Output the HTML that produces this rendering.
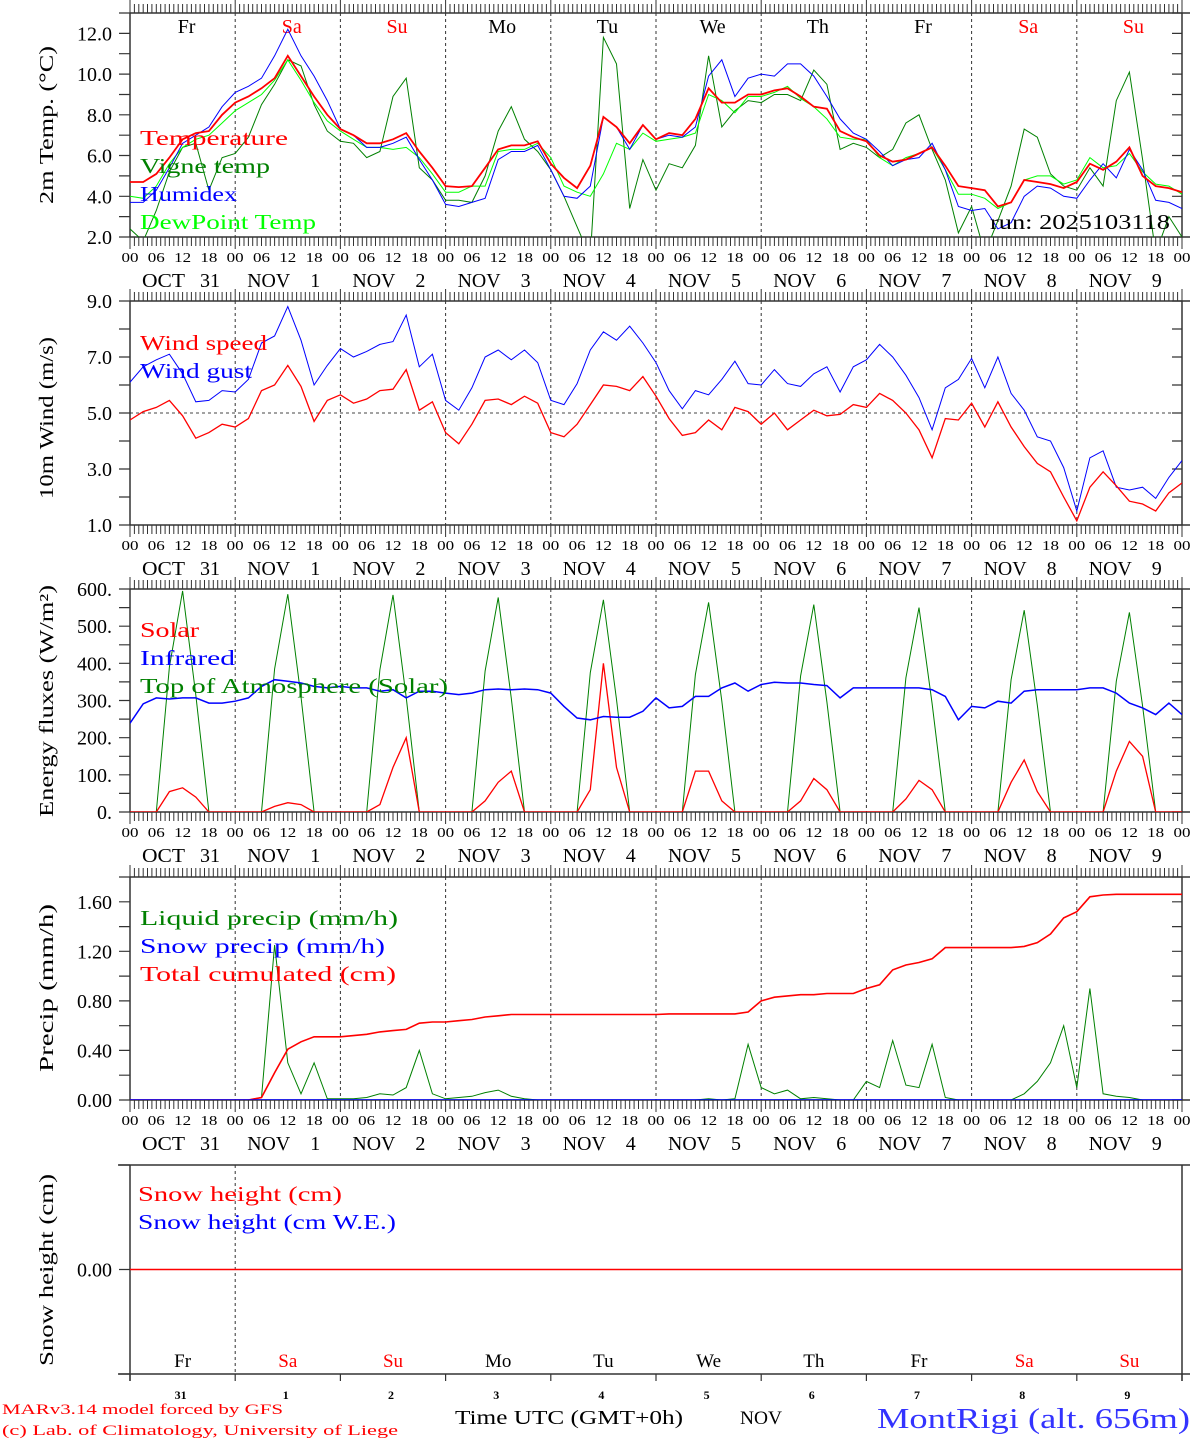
<!DOCTYPE html>
<html><head><meta charset="utf-8"><style>
html,body{margin:0;padding:0;background:#fff;}
svg{display:block;font-family:"Liberation Serif",serif;}
</style></head><body>
<svg id="chart" width="1194" height="1440" viewBox="0 0 1194 1440" xmlns="http://www.w3.org/2000/svg"></svg>
<script>
// ---------- DATA (3-hourly, t = 0..240 h) ----------
const dayNames = ["Fr","Sa","Su","Mo","Tu","We","Th","Fr","Sa","Su"];
const weekendDays = [false,true,true,false,false,false,false,false,true,true];
const dateLabels = ["OCT","NOV","NOV","NOV","NOV","NOV","NOV","NOV","NOV","NOV"];
const dateNums = ["31","1","2","3","4","5","6","7","8","9"];
const hourLabels = ["00","06","12","18"];

const tempVals = [4.7,4.7,5.1,5.9,6.8,7.1,7.2,8.0,8.6,8.9,9.3,9.8,10.9,9.9,8.9,8.0,7.3,7.0,6.6,6.6,6.8,7.1,6.2,5.4,4.5,
4.45,4.5,5.4,6.3,6.5,6.5,6.7,5.6,4.9,4.4,5.5,7.9,7.4,6.6,7.5,6.8,7.1,7.0,7.8,9.3,8.6,8.6,9.0,9.0,9.2,9.3,8.9,8.4,8.3,7.2,6.9,6.7,6.0,5.7,5.8,6.1,6.4,5.5,4.5,4.4,4.3,3.5,3.7,4.8,4.7,4.6,4.4,4.7,5.6,5.3,5.7,6.4,5.0,4.5,4.4,4.2];
const vigneVals = [2.4,1.8,3.3,5.2,6.4,6.6,4.3,5.9,6.1,6.9,8.5,9.5,10.7,10.4,8.5,7.2,6.7,6.6,5.9,6.2,8.9,9.8,5.4,4.8,3.8,
3.8,3.7,5.0,7.2,8.4,6.8,6.2,5.3,4.0,2.5,1.0,11.8,10.5,3.4,5.8,4.3,5.6,5.4,6.5,10.9,7.4,8.2,8.7,8.6,9.0,9.0,8.7,10.2,9.5,6.3,6.6,6.4,5.9,6.3,7.6,8.0,6.3,4.8,2.2,3.5,1.2,2.8,4.5,7.3,6.9,5.1,4.5,4.3,5.4,4.5,8.7,10.1,5.8,1.2,3.0,2.0];
const humidexVals = [3.7,3.7,4.3,5.4,6.6,7.0,7.4,8.4,9.1,9.4,9.8,10.9,12.2,10.9,9.9,8.7,7.3,7.0,6.4,6.4,6.6,6.9,5.8,4.8,3.6,
3.5,3.7,3.9,5.8,6.2,6.2,6.5,5.3,4.0,3.9,4.5,7.9,7.4,6.3,7.5,6.8,7.0,6.9,7.4,9.9,10.7,8.9,9.8,10.0,9.9,10.5,10.5,9.9,8.9,7.8,7.1,6.8,6.2,5.5,5.8,5.9,6.6,5.3,3.5,3.3,3.4,2.4,2.7,4.0,4.5,4.4,4.0,3.9,4.8,5.6,4.9,6.3,5.3,3.8,3.7,3.4];
const dewVals = [4.0,3.9,4.5,5.6,6.4,6.8,7.0,7.6,8.2,8.6,9.0,9.7,10.7,9.7,8.6,7.7,7.2,6.8,6.4,6.4,6.3,6.4,5.9,5.1,4.2,
4.2,4.5,4.5,6.2,6.3,6.3,6.6,5.9,4.5,4.2,4.0,5.1,6.6,6.3,7.1,6.7,6.8,6.9,7.1,9.0,8.7,8.1,8.9,8.9,9.1,9.4,8.8,8.4,7.8,6.9,6.8,6.8,5.9,5.5,5.9,6.1,6.4,5.3,4.1,4.1,3.9,3.4,3.7,4.8,5.0,5.0,4.6,4.8,5.9,5.4,5.5,6.1,5.2,4.6,4.5,4.1];

const windVals = [4.75,5.05,5.2,5.45,4.9,4.1,4.3,4.6,4.5,4.8,5.8,6.0,6.7,5.95,4.7,5.45,5.65,5.35,5.5,5.8,5.85,6.55,5.1,5.4,4.3,3.9,4.6,5.45,5.5,5.3,5.6,5.35,4.3,4.15,4.6,5.3,6.0,5.95,5.8,6.3,5.6,4.8,4.2,4.3,4.75,4.4,5.2,5.05,4.6,5.0,4.4,4.75,5.1,4.9,4.95,5.3,5.2,5.7,5.45,5.0,4.4,3.4,4.8,4.75,5.35,4.5,5.4,4.5,3.8,3.2,2.9,2.0,1.15,2.35,2.9,2.4,1.85,1.75,1.5,2.15,2.5];
const gustVals = [6.1,6.65,6.9,7.1,6.4,5.4,5.45,5.8,5.75,6.2,7.5,7.75,8.8,7.6,6.0,6.7,7.3,7.0,7.2,7.45,7.55,8.5,6.65,7.1,5.45,5.1,5.9,7.0,7.25,6.9,7.25,6.8,5.45,5.3,6.05,7.25,7.9,7.6,8.1,7.5,6.8,5.8,5.15,5.8,5.65,6.2,6.85,6.05,6.0,6.55,6.05,5.95,6.4,6.65,5.75,6.65,6.9,7.45,7.0,6.35,5.55,4.4,5.9,6.2,6.95,5.9,7.0,5.7,5.1,4.15,4.0,3.05,1.5,3.4,3.65,2.35,2.25,2.35,1.95,2.7,3.3];

const solarVals = [0,0,0,55,65,40,0,0, 0,0,0,15,25,20,0,0, 0,0,0,20,120,200,0,0, 0,0,0,30,80,110,0,0, 0,0,0,60,400,120,0,0,
0,0,0,110,110,30,0,0, 0,0,0,30,90,60,0,0, 0,0,0,35,85,60,0,0, 0,0,0,80,140,55,0,0, 0,0,0,110,190,150,0,0, 0];
const infraredVals = [239,291,307,304,307,307,293,293,298,307,338,356,352,347,338,334,338,334,334,325,329,307,325,325,320,316,320,329,331,329,331,329,320,284,253,248,257,255,255,271,307,280,284,311,311,334,347,325,343,349,347,347,343,340,307,334,334,334,334,334,334,329,311,248,284,280,298,293,325,329,329,329,329,334,334,320,293,280,262,293,262];
const toaVals = [0,0,0,390,595,315,0,0, 0,0,0,385,586,310,0,0, 0,0,0,383,584,309,0,0, 0,0,0,379,577,306,0,0, 0,0,0,375,571,303,0,0,
0,0,0,370,564,299,0,0, 0,0,0,366,558,296,0,0, 0,0,0,361,550,292,0,0, 0,0,0,356,543,288,0,0, 0,0,0,352,537,285,0,0, 0];

const liquidVals = [0,0,0,0,0,0,0,0,0,0,0.02,1.25,0.3,0.05,0.3,0.01,0.01,0.01,0.02,0.05,0.04,0.1,0.4,0.05,0.01,0.02,0.03,0.06,0.08,0.03,0.01,0,0,0,0,0,0,0,0,0,0,0,0,0,0.01,0,0.01,0.45,0.1,0.05,0.08,0.01,0.02,0.01,0,0,0.15,0.1,0.48,0.12,0.1,0.45,0.02,0,0,0,0,0,0.05,0.15,0.3,0.6,0.1,0.9,0.05,0.03,0.02,0,0,0,0];
const snowPrecipVals = new Array(81).fill(0);
const cumulVals = [0,0,0,0,0,0,0,0,0,0,0.02,0.22,0.41,0.47,0.51,0.51,0.51,0.52,0.53,0.55,0.56,0.57,0.62,0.63,0.63,0.64,0.65,0.67,0.68,0.69,0.69,0.69,0.69,0.69,0.69,0.69,0.69,0.69,0.69,0.69,0.69,0.695,0.695,0.695,0.695,0.695,0.695,0.71,0.8,0.83,0.84,0.85,0.85,0.86,0.86,0.86,0.9,0.93,1.05,1.09,1.11,1.14,1.23,1.23,1.23,1.23,1.23,1.23,1.24,1.27,1.34,1.47,1.52,1.64,1.655,1.66,1.66,1.66,1.66,1.66,1.66];
const snowHeightVals = new Array(81).fill(0);
const snowWEVals = new Array(81).fill(0);

// ---------- RENDER ----------
const NS = "http://www.w3.org/2000/svg";
const svg = document.getElementById('chart');
const X0 = 130, X1 = 1182, TMAX = 240;
function xs(t){ return X0 + t / TMAX * (X1 - X0); }
function el(tag, attrs, parent){ const e = document.createElementNS(NS, tag); for (const k in attrs) e.setAttribute(k, attrs[k]); (parent||svg).appendChild(e); return e; }
function txt(s, attrs, parent){ const e = el('text', attrs, parent); e.textContent = s; return e; }

function panel(p){
  const g = el('g', {});
  
  
  const ys = v => p.bot - (v - p.min) / (p.max - p.min) * (p.bot - p.top);
  const cid = 'clip-' + p.name;
  const cp = el('clipPath', {id: cid}, g);
  el('rect', {x: X0, y: p.top, width: X1 - X0, height: p.bot - p.top}, cp);
  const nDiv = p.simple ? 2 : 10;
  for (let d = 1; d < nDiv; d++) {
    const l = el('line', {x1: xs(d*24), x2: xs(d*24), y1: p.top, y2: p.bot, stroke: '#333', 'stroke-width': 1, 'stroke-dasharray': '3,3'}, g);
    
    
  }
  if (p.hline !== undefined) {
    const l = el('line', {x1: X0, x2: X1, y1: ys(p.hline), y2: ys(p.hline), stroke: '#444', 'stroke-dasharray': '3,3'}, g);
    
    
  }
  const ext = p.simple ? 118 : X0;
  el('line', {x1: ext, x2: X1 + 8, y1: p.top, y2: p.top, stroke: '#333', 'stroke-width': 1.5}, g);
  el('line', {x1: ext, x2: X1 + 8, y1: p.bot, y2: p.bot, stroke: '#333', 'stroke-width': 1.5}, g);
  el('line', {x1: X0, x2: X0, y1: p.top, y2: p.bot + (p.simple ? 7 : 0), stroke: '#333', 'stroke-width': 1.5}, g);
  el('line', {x1: X1, x2: X1, y1: p.top, y2: p.bot + (p.simple ? 7 : 0), stroke: '#333', 'stroke-width': 1.5}, g);
  if (!p.simple) {
    let dpath = '';
    for (let h = 0; h <= 240; h++) {
      const x = xs(h).toFixed(1);
      const big = h % 24 === 0;
      dpath += `M${x},${p.bot}v${big ? 12 : 9}M${x},${p.top}v${big ? -(p.topExt||12) : -9}`;
    }
    el('path', {d: dpath, stroke: '#333', 'stroke-width': 1, fill: 'none'}, g);
    for (let k = 0; k <= 40; k++) {
      const t = txt(hourLabels[k % 4], {x: xs(k*6) - 8.5, y: p.bot + 25, 'font-size': 14, fill: '#000', textLength: 17, lengthAdjust: 'spacingAndGlyphs'}, g);
      
      
    }
    for (let d = 0; d < 10; d++) {
      const a = txt(dateLabels[d], {x: xs(d*24) + 12, y: p.bot + 50, 'font-size': 20, fill: '#000', textLength: 43, lengthAdjust: 'spacingAndGlyphs'}, g);
      
      
      const b = txt(dateNums[d], {x: xs(d*24) + 80, y: p.bot + 50, 'font-size': 20, 'text-anchor': 'middle', fill: '#000'}, g);
      
      
    }
  }
  let tp = '';
  for (let v = p.min; v <= p.max + 1e-9; v += p.minor) {
    const y = ys(v).toFixed(1);
    tp += `M${X0 - 11},${y}h11M${X1},${y}h${p.simple ? 0 : -10}`;
  }
  el('path', {d: tp, stroke: '#333', 'stroke-width': 1.2, fill: 'none'}, g);
  p.labels.forEach((lab, i) => {
    const t = txt(lab, {x: 112, y: ys(p.labelVals[i]) + 7, 'font-size': 20, 'text-anchor': 'end', fill: '#000'}, g);
    
    
  });
  const yt = txt(p.title, {x: -p.titleLen/2, y: 0, 'font-size': 20, fill: '#000', textLength: p.titleLen, lengthAdjust: 'spacingAndGlyphs', transform: `translate(53,${p.titleY}) rotate(-90)`}, g);
  
  
  const sg = el('g', {'clip-path': `url(#${cid})`}, g);
  p.series.forEach(s => {
    let d = '';
    s.vals.forEach((v, i) => { d += (i ? 'L' : 'M') + xs(i*3).toFixed(1) + ',' + ys(v).toFixed(1); });
    const path = el('path', {d: d, stroke: s.color, 'stroke-width': s.w || 1, fill: 'none'}, sg);
    
    
  });
  p.legend.forEach((L, i) => {
    const t = txt(L.t, {x: L.x || 140, y: p.legY + i*28, 'font-size': 21, fill: L.c, textLength: L.w, lengthAdjust: 'spacingAndGlyphs'}, g);
    
    
  });
  return g;
}

for (let d = 0; d < 10; d++) {
  const t = txt(dayNames[d], {x: xs(d*24 + 12) + 4, y: 33, 'font-size': 20, 'text-anchor': 'middle', fill: weekendDays[d] ? '#ff0000' : '#000'});
  
  
}

panel({name: 'temperature-panel', top: 13, bot: 237, min: 2, max: 13, minor: 1, topExt: 13,
  labels: ['2.0','4.0','6.0','8.0','10.0','12.0'], labelVals: [2,4,6,8,10,12], title: '2m Temp. (°C)', titleY: 125, titleLen: 158,
  series: [
    {name: 'vigne-temp-line', vals: vigneVals, color: '#008000'},
    {name: 'dewpoint-line', vals: dewVals, color: '#00ff00'},
    {name: 'humidex-line', vals: humidexVals, color: '#0000ff'},
    {name: 'temperature-line', vals: tempVals, color: '#ff0000', w: 1.8}],
  legY: 145, legend: [{t:'Temperature',c:'#ff0000',w:148},{t:'Vigne temp',c:'#008000',w:130},{t:'Humidex',c:'#0000ff',w:97},{t:'DewPoint Temp',c:'#00ff00',w:176}]});
const run = txt('run: 2025103118', {x: 990, y: 229, 'font-size': 21, fill: '#000', textLength: 180, lengthAdjust: 'spacingAndGlyphs'});



panel({name: 'wind-panel', top: 301, bot: 525, min: 1, max: 9, minor: 1, hline: 5,
  labels: ['1.0','3.0','5.0','7.0','9.0'], labelVals: [1,3,5,7,9], title: '10m Wind (m/s)', titleY: 418, titleLen: 162,
  series: [{name: 'wind-gust-line', vals: gustVals, color: '#0000ff'}, {name: 'wind-speed-line', vals: windVals, color: '#ff0000', w: 1.3}],
  legY: 350, legend: [{t:'Wind speed',c:'#ff0000',w:127},{t:'Wind gust',c:'#0000ff',w:112}]});

panel({name: 'energy-panel', top: 589, bot: 812, min: 0, max: 600, minor: 50,
  labels: ['0.','100.','200.','300.','400.','500.','600.'], labelVals: [0,100,200,300,400,500,600], title: 'Energy fluxes (W/m²)', titleY: 701, titleLen: 232,
  series: [{name: 'toa-solar-line', vals: toaVals, color: '#008000'}, {name: 'solar-line', vals: solarVals, color: '#ff0000', w: 1.3}, {name: 'infrared-line', vals: infraredVals, color: '#0000ff', w: 1.5}],
  legY: 637, legend: [{t:'Solar',c:'#ff0000',w:59},{t:'Infrared',c:'#0000ff',w:95},{t:'Top of Atmosphere (Solar)',c:'#008000',w:308}]});

panel({name: 'precip-panel', top: 877, bot: 1100, min: 0, max: 1.8, minor: 0.2,
  labels: ['0.00','0.40','0.80','1.20','1.60'], labelVals: [0,0.4,0.8,1.2,1.6], title: 'Precip (mm/h)', titleY: 988, titleLen: 168,
  series: [{name: 'liquid-precip-line', vals: liquidVals, color: '#008000'}, {name: 'cumulated-precip-line', vals: cumulVals, color: '#ff0000', w: 1.6}, {name: 'snow-precip-line', vals: snowPrecipVals, color: '#0000ff', w: 1.5}],
  legY: 925, legend: [{t:'Liquid precip (mm/h)',c:'#008000',w:258},{t:'Snow precip (mm/h)',c:'#0000ff',w:245},{t:'Total cumulated (cm)',c:'#ff0000',w:256}]});

panel({name: 'snow-panel', top: 1165, bot: 1374, min: -1, max: 1, minor: 1, simple: true,
  labels: ['0.00'], labelVals: [0], title: 'Snow height (cm)', titleY: 1270, titleLen: 192,
  series: [{name: 'snow-we-line', vals: snowWEVals, color: '#0000ff'}, {name: 'snow-height-line', vals: snowHeightVals, color: '#ff0000', w: 1.5}],
  legY: 1201, legend: [{t:'Snow height (cm)',c:'#ff0000',w:204,x:138},{t:'Snow height (cm W.E.)',c:'#0000ff',w:258,x:138}]});
for (let d = 0; d <= 10; d++) el('line', {x1: xs(d*24), x2: xs(d*24), y1: 1374, y2: 1381, stroke: '#333', 'stroke-width': 1.2});
for (let d = 0; d < 10; d++) {
  const t = txt(dayNames[d], {x: xs(d*24 + 12), y: 1367, 'font-size': 19, 'text-anchor': 'middle', fill: weekendDays[d] ? '#ff0000' : '#000'});
  
  
  const n = txt(dateNums[d], {x: xs(d*24 + 12) - 2, y: 1399, 'font-size': 12, 'font-weight': 'bold', 'text-anchor': 'middle', fill: '#000'});
  
  
}
// footer
const f1 = txt('MARv3.14 model forced by GFS', {x: 2, y: 1414, 'font-size': 15, fill: '#ff0000', textLength: 281, lengthAdjust: 'spacingAndGlyphs'});


const f2 = txt('(c) Lab. of Climatology, University of Liege', {x: 2, y: 1435, 'font-size': 15, fill: '#ff0000', textLength: 396, lengthAdjust: 'spacingAndGlyphs'});


const f3 = txt('Time UTC (GMT+0h)', {x: 455, y: 1424, 'font-size': 20, fill: '#000', textLength: 228, lengthAdjust: 'spacingAndGlyphs'});


const f4 = txt('NOV', {x: 740, y: 1424, 'font-size': 19, fill: '#000', textLength: 42, lengthAdjust: 'spacingAndGlyphs'});


const f5 = txt('MontRigi (alt. 656m)', {x: 877, y: 1428, 'font-size': 29, fill: '#3333ff', textLength: 313, lengthAdjust: 'spacingAndGlyphs'});


</script>
</body></html>
